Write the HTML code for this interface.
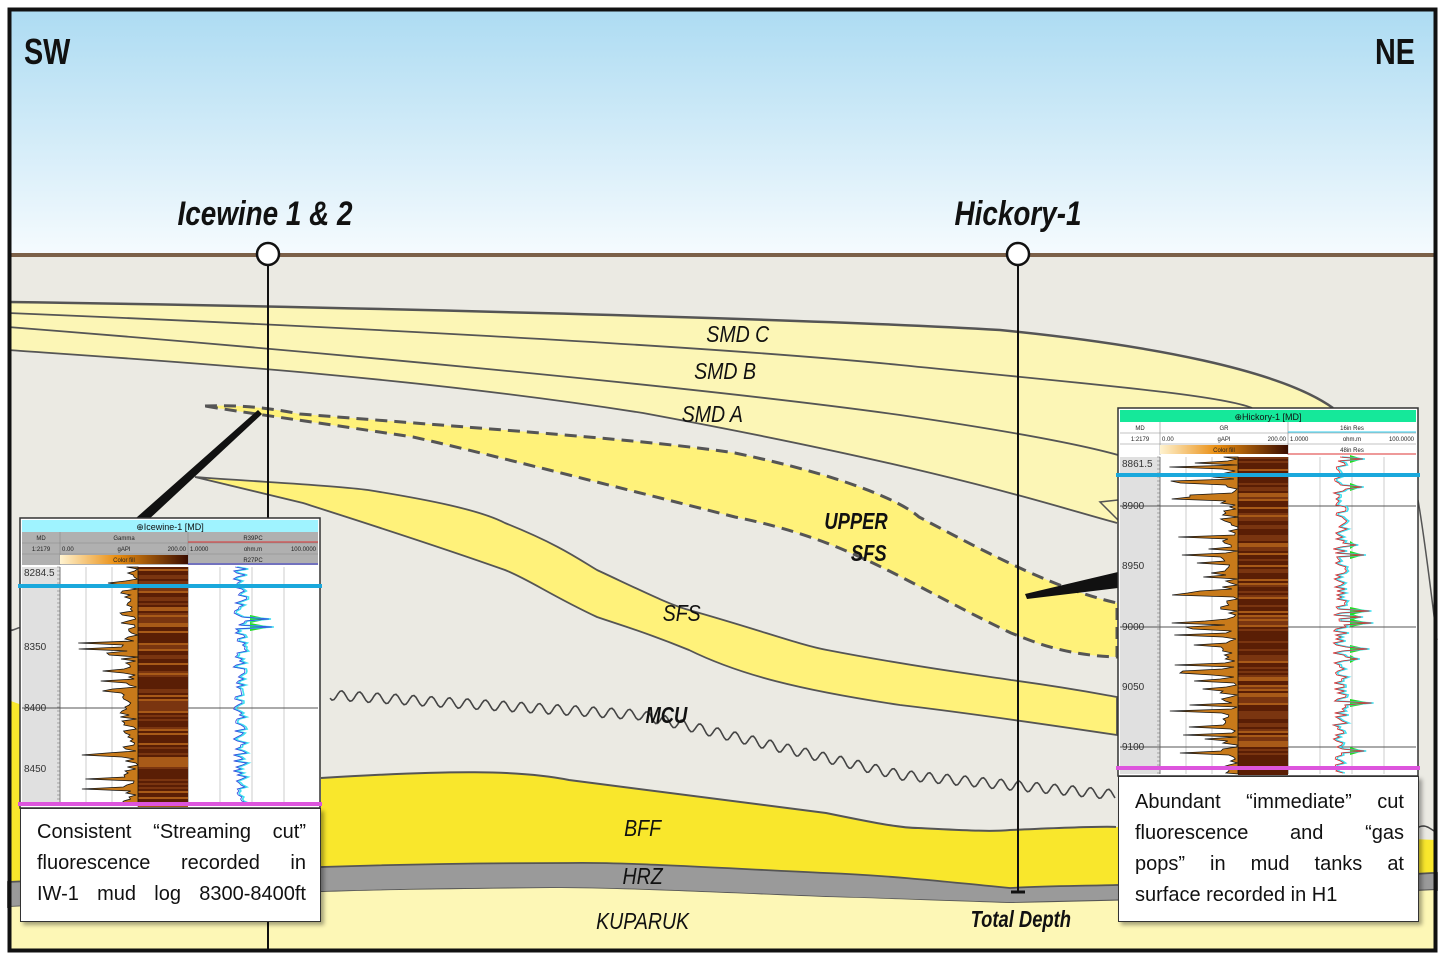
<!DOCTYPE html>
<html><head><meta charset="utf-8">
<style>
html,body{margin:0;padding:0;background:#fff;}
body{width:1440px;height:960px;position:relative;overflow:hidden;font-family:"Liberation Sans",sans-serif;}
svg{position:absolute;left:0;top:0;}
.tb{position:absolute;background:#fff;border:1.5px solid #333;box-shadow:3px 3px 4px rgba(0,0,0,0.35);font-family:"Liberation Sans",sans-serif;font-size:20px;color:#111;box-sizing:border-box;}
.tb div{text-align:justify;text-align-last:justify;height:31px;line-height:31px;}
</style></head><body>
<svg id="s" width="1440" height="960" viewBox="0 0 1440 960" xmlns="http://www.w3.org/2000/svg">
<defs>
<linearGradient id="sky" x1="0" y1="0" x2="0" y2="1"><stop offset="0" stop-color="#acdbf2"/><stop offset="1" stop-color="#f6fbfe"/></linearGradient>
<linearGradient id="cf" x1="0" y1="0" x2="1" y2="0"><stop offset="0" stop-color="#fff3d0"/><stop offset="0.45" stop-color="#e98d10"/><stop offset="1" stop-color="#3a0c00"/></linearGradient>
</defs>
<rect x="0" y="0" width="1440" height="960" fill="#fff"/>
<rect x="8" y="8" width="1429" height="248" fill="url(#sky)"/>
<rect x="8" y="256" width="1429" height="696" fill="#ebeae3"/>
<path d="M8,302 C300,306 800,318 1000,330 C1150,345 1280,370 1333,408 L1117,523 C1050,505 950,470 643,413 C400,375 150,360 8,350 Z" fill="#fcf6b6"/>
<path d="M8,302 C300,306 800,318 1000,330 C1150,345 1280,370 1333,408" fill="none" stroke="#555" stroke-width="2.5"/>
<path d="M8,313 C300,325 700,345 900,365 C1100,385 1220,395 1252,408" fill="none" stroke="#555" stroke-width="1.8"/>
<path d="M8,327 C300,350 700,387 900,415 C1050,437 1100,450 1118,455" fill="none" stroke="#555" stroke-width="1.8"/>
<path d="M8,350 C150,360 400,375 643,413 C950,470 1050,505 1117,523" fill="none" stroke="#555" stroke-width="1.8"/>
<path d="M1118,500 L1100,502 L1118,520" fill="#fcf6b6" stroke="#555" stroke-width="1.5"/>
<path d="M1418,500 C1425,540 1432,600 1437,640" fill="none" stroke="#555" stroke-width="1.5"/>
<path d="M205,406 C230,405 260,406 300,414 C500,430 650,440 735,453 C840,475 900,500 919,517 C1000,560 1060,590 1117,603 L1117,657 C1060,655 1030,640 1011,633 C900,580 850,540 735,517 C550,470 450,445 413,437 C300,420 240,412 205,406 Z" fill="#fff27a" stroke="#555" stroke-width="3" stroke-dasharray="12,7"/>
<path d="M195,477 C260,482 330,485 368,490 C430,500 480,510 505,523 C560,545 580,560 597,570 C640,590 670,605 689,610 C760,630 800,645 827,650 C920,668 980,675 1011,680 C1070,688 1100,694 1117,697 L1117,735 C1050,725 960,712 900,705 C800,690 740,675 689,650 C640,630 620,625 597,617 C550,595 530,580 505,570 C420,540 340,515 303,503 C250,490 215,482 195,477 Z" fill="#fff27a" stroke="#555" stroke-width="1.8"/>
<path d="M8,700 L22,705 L22,890 L8,890 Z" fill="#f9e72c"/>
<path d="M8,630 C14,632 18,626 22,628" fill="none" stroke="#555" stroke-width="1.5"/>
<path d="M321,778 C450,770 520,770 569,780 C680,795 760,805 826,813 C870,822 900,828 918,828 C960,830 990,832 1010,830 C1060,828 1100,826 1116,827 L1437,840 L1437,873 L1432,873 C1300,880 1200,885 1116,885 L1010,888 C930,880 880,875 826,873 C700,867 620,862 569,863 C450,863 380,865 321,867 C200,872 100,878 8,882 L8,808 L321,808 Z" fill="#f9e72c"/>
<path d="M321,778 C450,770 520,770 569,780 C680,795 760,805 826,813 C870,822 900,828 918,828 C960,830 990,832 1010,830 C1060,828 1100,826 1116,827" fill="none" stroke="#555" stroke-width="2"/>
<path d="M8,882 C100,878 200,872 321,867 C380,865 450,863 569,863 C620,862 700,867 826,873 C880,875 930,880 1010,888 C1040,886 1080,886 1116,885 C1200,885 1300,880 1432,873 L1437,873 L1437,890 L1432,890 C1300,896 1150,900 1010,903 C920,900 870,898 826,897 C700,892 620,888 551,888 C450,889 380,890 321,892 C200,897 100,902 8,907 Z" fill="#9a9a9a" stroke="#555" stroke-width="1.8"/>
<path d="M8,907 C100,902 200,897 321,892 C380,890 450,889 551,888 C620,888 700,892 826,897 C870,898 920,900 1010,903 C1150,900 1300,896 1437,890 L1437,952 L8,952 Z" fill="#fdf7b6"/>
<path id="mcu" fill="none" stroke="#444" stroke-width="1.6"/>
<rect x="8" y="253" width="1429" height="4" fill="#7b6048"/>
<line x1="268" y1="264" x2="268" y2="952" stroke="#111" stroke-width="2"/>
<line x1="1018" y1="264" x2="1018" y2="892" stroke="#111" stroke-width="2"/>
<line x1="1011" y1="892" x2="1025" y2="892" stroke="#111" stroke-width="3"/>
<circle cx="268" cy="254" r="11" fill="#fff" stroke="#111" stroke-width="2.5"/>
<circle cx="1018" cy="254" r="11" fill="#fff" stroke="#111" stroke-width="2.5"/>
<path d="M258,410 L262,414 L146,522 L136,518 Z" fill="#111"/>
<path d="M1025,594 L1118,572 L1118,588 L1027,599 Z" fill="#111"/>
<g font-family="Liberation Sans, sans-serif" font-style="italic" fill="#111">
<text x="265" y="225" font-size="34" font-weight="bold" text-anchor="middle" transform="translate(265,0) scale(0.82,1) translate(-265,0)">Icewine 1 &amp; 2</text>
<text x="1018" y="225" font-size="34" font-weight="bold" text-anchor="middle" transform="translate(1018,0) scale(0.82,1) translate(-1018,0)">Hickory-1</text>
<g font-size="23" transform="scale(0.85,1)">
<text x="868" y="342" text-anchor="middle">SMD C</text>
<text x="853" y="379" text-anchor="middle">SMD B</text>
<text x="838" y="422" text-anchor="middle">SMD A</text>
<text x="802" y="621" text-anchor="middle">SFS</text>
<text x="756" y="836" text-anchor="middle">BFF</text>
<text x="756" y="884" text-anchor="middle">HRZ</text>
<text x="756" y="929" text-anchor="middle">KUPARUK</text>
</g>
<g font-size="23" font-weight="bold" transform="scale(0.8,1)">
<text x="1070" y="529" text-anchor="middle">UPPER</text>
<text x="1086" y="561" text-anchor="middle">SFS</text>
<text x="833" y="723" text-anchor="middle">MCU</text>
<text x="1276" y="927" text-anchor="middle">Total Depth</text>
</g>
</g>
<g font-family="Liberation Sans, sans-serif" font-weight="bold" fill="#111" font-size="36">
<text x="24" y="64" transform="translate(24,0) scale(0.8,1) translate(-24,0)">SW</text>
<text x="1415" y="64" text-anchor="end" transform="translate(1415,0) scale(0.8,1) translate(-1415,0)">NE</text>
</g>
<g id="logs"></g>
<rect x="9.5" y="9.5" width="1426" height="941" fill="none" stroke="#111" stroke-width="4"/>
</svg>
<div class="tb" style="left:20px;top:808px;width:301px;height:114px;padding:8px 14px 0 16px;">
<div>Consistent “Streaming cut”</div><div>fluorescence recorded in</div><div>IW-1 mud log 8300-8400ft</div></div>
<div class="tb" style="left:1118px;top:776px;width:301px;height:146px;padding:10px 14px 0 16px;">
<div>Abundant “immediate” cut</div><div>fluorescence and “gas</div><div>pops” in mud tanks at</div><div style="text-align-last:left">surface recorded in H1</div></div>
<script>
var NS="http://www.w3.org/2000/svg";
function el(t,a,p){var e=document.createElementNS(NS,t);for(var k in a)e.setAttribute(k,a[k]);(p||document.getElementById('logs')).appendChild(e);return e;}
var seed=7;function rnd(){seed=(seed*16807)%2147483647;return seed/2147483647;}
(function(){var pts=[[330,695],[640,715],[900,775],[1117,795]];var d="";var n=0;
for(var i=0;i<pts.length-1;i++){var a=pts[i],b=pts[i+1];var L=Math.hypot(b[0]-a[0],b[1]-a[1]);var steps=Math.round(L/2);
for(var j=0;j<steps;j++){var t=j/steps;var x=a[0]+(b[0]-a[0])*t,y=a[1]+(b[1]-a[1])*t;n+=2;y+=Math.sin(n/18*Math.PI*2)*5;d+=(d?"L":"M")+x.toFixed(1)+","+y.toFixed(1);}}
document.getElementById('mcu').setAttribute('d',d);
var d2="";for(var x=1418;x<1437;x+=2){d2+=(d2?"L":"M")+x+","+(830+Math.sin(x/6)*4);}el('path',{d:d2,fill:'none',stroke:'#444','stroke-width':1.5});})();
function log(o){
var X=o.x,Y=o.y,W=300,H=o.h;
el('rect',{x:X,y:Y,width:W,height:H,fill:'#fff',stroke:'#333','stroke-width':1.5});
el('rect',{x:X+2,y:Y+2,width:W-4,height:12,fill:o.tc});
var t=el('text',{x:X+W/2,y:Y+12,'font-size':9,'text-anchor':'middle',fill:'#111'});t.textContent='⊕'+o.title;
var hy=Y+14,rh=11;
var hc=o.hdrGrey?'#b0b0b0':'#fff';
el('rect',{x:X+2,y:hy,width:W-4,height:rh*3,fill:hc});
var dx=X+2,gx=X+o.dw,rx=X+o.dw+128,ex=X+W-2;
for(var i=1;i<3;i++)el('line',{x1:X+2,y1:hy+rh*i,x2:ex,y2:hy+rh*i,stroke:'#888','stroke-width':0.6});
el('line',{x1:gx,y1:hy,x2:gx,y2:hy+rh*3,stroke:'#888','stroke-width':0.6});
el('line',{x1:rx,y1:hy,x2:rx,y2:hy+rh*3,stroke:'#888','stroke-width':0.6});
el('rect',{x:gx,y:hy+rh*2+1,width:128,height:rh-2,fill:'url(#cf)'});
function tx(x,y,s,a){var e=el('text',{x:x,y:y,'font-size':6,'text-anchor':a||'middle',fill:'#222'});e.textContent=s;}
tx((dx+gx)/2,hy+8,'MD');tx((dx+gx)/2,hy+19,'1:2179');tx((gx+rx)/2,hy+8,o.g);tx((gx+rx)/2,hy+19,'gAPI');tx(gx+2,hy+19,'0.00','start');tx(rx-2,hy+19,'200.00','end');
tx((rx+ex)/2,hy+8,o.r1);tx((rx+ex)/2,hy+19,'ohm.m');tx(rx+2,hy+19,'1.0000','start');tx(ex-2,hy+19,'100.0000','end');tx((rx+ex)/2,hy+30,o.r2);tx((gx+rx)/2,hy+30,'Color fill');
el('line',{x1:rx,y1:hy+rh-1,x2:ex,y2:hy+rh-1,stroke:o.r1c,'stroke-width':1});
el('line',{x1:rx,y1:hy+rh*3-1,x2:ex,y2:hy+rh*3-1,stroke:o.r2c,'stroke-width':1});
var top=hy+rh*3+2,bot=Y+H-2;
el('rect',{x:X+2,y:top,width:o.dw-2,height:bot-top,fill:'#e0e0e0'});
for(var k=1;k<4;k++){el('line',{x1:gx+k*26,y1:top,x2:gx+k*26,y2:bot,stroke:'#ccc','stroke-width':1});el('line',{x1:rx+k*32,y1:top,x2:rx+k*32,y2:bot,stroke:'#ccc','stroke-width':1});}
el('line',{x1:gx,y1:top,x2:gx,y2:bot,stroke:'#777','stroke-width':1});
el('line',{x1:rx,y1:top,x2:rx,y2:bot,stroke:'#777','stroke-width':1});
o.grid.forEach(function(g){el('line',{x1:X+2,y1:g,x2:ex,y2:g,stroke:'#555','stroke-width':1});});
o.labels.forEach(function(l){var e=el('text',{x:X+4,y:l[1]+3,'font-size':10,fill:'#333'});e.textContent=l[0];});
for(var yy=top;yy<bot;yy+=4)el('line',{x1:gx-3,y1:yy,x2:gx,y2:yy,stroke:'#666','stroke-width':0.5});
var bc=gx+78,bw=50;
for(var yy=top;yy<bot;yy+=2){var c=rnd();var col=c<0.5?'#5a1e05':(c<0.8?'#7a3510':'#a85a18');el('rect',{x:bc,y:yy,width:bw,height:2,fill:col});}
var d="M"+bc+","+top;
for(var yy=top;yy<=bot;yy+=2){var v=bc-(rnd()*18);if(rnd()<o.spk)v=bc-25-rnd()*45;d+="L"+v.toFixed(1)+","+yy;}
d+="L"+bc+","+bot+"Z";
el('path',{d:d,fill:'#c87a1a',stroke:'#111','stroke-width':0.8});
var cx=rx+52,d1="",d2="";
for(var yy=top;yy<=bot;yy+=2){var v=cx+(rnd()-0.5)*14;var sp=rnd()<o.gr;if(sp){v=cx+14+rnd()*18;el('path',{d:'M'+(cx+10)+','+(yy-4)+'L'+v+','+yy+'L'+(cx+10)+','+(yy+4)+'Z',fill:'#22dd22'});}
d1+=(d1?"L":"M")+(v+2).toFixed(1)+","+yy;d2+=(d2?"L":"M")+v.toFixed(1)+","+yy;}
el('path',{d:d1,fill:'none',stroke:'#40e0f0','stroke-width':1.6});
el('path',{d:d2,fill:'none',stroke:o.rc,'stroke-width':0.8});
el('rect',{x:X-2,y:o.blue-2,width:W+4,height:4,fill:'#1aa8dc'});
el('rect',{x:X-2,y:o.mag-2,width:W+4,height:4,fill:'#dd55dd'});
}
log({x:20,y:518,h:290,tc:'#9ff3ff',title:'Icewine-1 [MD]',hdrGrey:true,dw:40,g:'Gamma',r1:'R39PC',r2:'R27PC',r1c:'#d33',r2c:'#33c',rc:'#3344dd',
grid:[708],labels:[['8284.5',573],['8350',647],['8400',708],['8450',769]],blue:586,mag:804,spk:0.12,gr:0.02});
log({x:1118,y:408,h:368,tc:'#15e89a',title:'Hickory-1 [MD]',hdrGrey:false,dw:42,g:'GR',r1:'16in Res',r2:'48in Res',r1c:'#3ce',r2c:'#d33',rc:'#dd2222',
grid:[506,627,747],labels:[['8861.5',464],['8900',506],['8950',566],['9000',627],['9050',687],['9100',747]],blue:475,mag:768,spk:0.2,gr:0.05});
</script>
</body></html>
